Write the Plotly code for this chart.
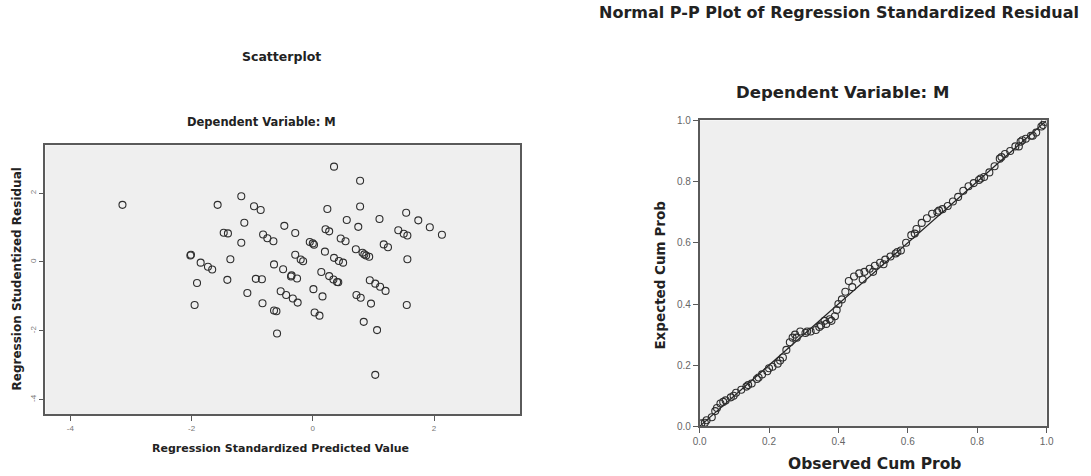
import plotly.graph_objects as go

# ---------------- data ----------------
pred_value = [-3.14, -1.57, -1.18, -0.97, -0.86, -1.13, -1.47, -1.40, -1.18, -2.02,
              -2.01, -1.85, -1.73, -1.66, -1.36, -1.91, -1.95, -1.41, -1.08, -0.84,
              -0.83, -0.82, -0.75, -0.65, -0.47, -0.29, -0.64, -0.49, -0.35, -0.26,
              -0.53, -0.44, -0.33, -0.25, -0.64, -0.60, -0.59, -0.29, -0.20, -0.16,
              -0.05, 0.02, 0.01, 0.16, 0.03, 0.11, 0.14, 0.27, 0.34, 0.42,
              0.20, 0.35, 0.43, 0.50, 0.21, 0.27, 0.24, 0.35, 0.46, 0.54,
              0.56, 0.78, 0.78, 0.75, 0.71, 0.82, 0.88, 0.93, 0.94, 1.03,
              1.11, 1.20, 0.72, 0.79, 0.96, 0.84, 1.06, 1.03, 1.10, 1.17,
              1.24, 1.41, 1.50, 1.56, 1.54, 1.74, 1.93, 2.13, 1.56, 1.55,
              -0.94, 0.00, 0.40, 0.85, -0.36]
stud_resid = [1.66, 1.66, 1.91, 1.62, 1.51, 1.14, 0.85, 0.83, 0.56, 0.19,
              0.21, -0.02, -0.14, -0.22, 0.08, -0.61, -1.25, -0.52, -0.90, -0.50,
              -1.20, 0.80, 0.69, 0.60, 1.05, 0.84, -0.07, -0.21, -0.39, -0.48,
              -0.85, -0.96, -1.06, -1.18, -1.41, -1.43, -2.08, 0.21, 0.07, 0.02,
              0.58, 0.50, -0.79, -1.00, -1.47, -1.56, -0.29, -0.41, -0.51, -0.59,
              0.30, 0.12, 0.03, -0.02, 0.95, 0.89, 1.54, 2.77, 0.68, 0.60,
              1.22, 2.36, 1.61, 1.02, 0.37, 0.27, 0.19, 0.15, -0.53, -0.63,
              -0.72, -0.84, -0.96, -1.04, -1.21, -1.74, -1.98, -3.28, 1.25, 0.51,
              0.43, 0.92, 0.82, 0.77, 1.43, 1.21, 1.01, 0.79, 0.08, -1.25,
              -0.49, 0.54, -0.58, 0.22, -0.42]

observed_cum = [0.005, 0.02, 0.035, 0.05, 0.06, 0.075, 0.09, 0.105, 0.12, 0.135,
                0.15, 0.165, 0.18, 0.195, 0.21, 0.225, 0.24, 0.25, 0.26, 0.275,
                0.29, 0.305, 0.32, 0.335, 0.35, 0.365, 0.38, 0.39, 0.40, 0.41,
                0.42, 0.43, 0.445, 0.46, 0.475, 0.49, 0.505, 0.52, 0.535, 0.55,
                0.565, 0.58, 0.595, 0.61, 0.625, 0.64, 0.655, 0.67, 0.685, 0.70,
                0.715, 0.73, 0.745, 0.76, 0.775, 0.79, 0.805, 0.82, 0.835, 0.85,
                0.865, 0.88, 0.895, 0.91, 0.925, 0.94, 0.955, 0.97, 0.985, 0.995,
                0.44, 0.47, 0.50, 0.53, 0.36, 0.28, 0.62, 0.92, 0.96, 0.99,
                0.015, 0.045, 0.068, 0.098, 0.14, 0.17, 0.20, 0.232, 0.268, 0.31,
                0.345, 0.375, 0.395, 0.57, 0.69, 0.81, 0.87, 0.93]
expected_cum = [0.010, 0.02, 0.03, 0.06, 0.075, 0.085, 0.095, 0.11, 0.12, 0.13,
                0.14, 0.155, 0.17, 0.18, 0.195, 0.205, 0.225, 0.25, 0.275, 0.30,
                0.31, 0.305, 0.31, 0.315, 0.33, 0.335, 0.345, 0.36, 0.40, 0.415,
                0.44, 0.475, 0.49, 0.50, 0.505, 0.515, 0.525, 0.535, 0.545, 0.555,
                0.565, 0.575, 0.60, 0.625, 0.645, 0.665, 0.68, 0.695, 0.70, 0.71,
                0.72, 0.735, 0.75, 0.77, 0.785, 0.795, 0.805, 0.815, 0.83, 0.85,
                0.875, 0.89, 0.90, 0.915, 0.93, 0.94, 0.95, 0.96, 0.98, 0.995,
                0.455, 0.48, 0.505, 0.53, 0.345, 0.29, 0.63, 0.915, 0.95, 0.985,
                0.012, 0.05, 0.08, 0.10, 0.135, 0.16, 0.19, 0.215, 0.29, 0.31,
                0.325, 0.35, 0.38, 0.57, 0.705, 0.81, 0.88, 0.935]

diag_line = [0.0, 1.0]

left_xticks = [-4, -2, 0, 2]
left_yticks = [-4, -2, 0, 2]
pp_ticks = [0.0, 0.2, 0.4, 0.6, 0.8, 1.0]
pp_ticklabels = ["0.0", "0.2", "0.4", "0.6", "0.8", "1.0"]

# ---------------- figure ----------------
W, H = 1091, 476
FONT = "Liberation Sans, Arial, sans-serif"
TFONT = "DejaVu Sans, Verdana, sans-serif"
BG = "#efefef"
FRAME = "#5a5a5a"

fig = go.Figure()

marker = dict(symbol="circle-open", size=7, color="#2e2e2e", line=dict(width=1.1))

fig.add_trace(go.Scatter(x=pred_value, y=stud_resid, mode="markers",
                         marker=marker, xaxis="x", yaxis="y", showlegend=False))
fig.add_trace(go.Scatter(x=diag_line, y=diag_line, mode="lines",
                         line=dict(color="#222222", width=1.2),
                         xaxis="x2", yaxis="y2", showlegend=False))
fig.add_trace(go.Scatter(x=observed_cum, y=expected_cum, mode="markers",
                         marker=marker, xaxis="x2", yaxis="y2", showlegend=False))


def px(x):
    return ((x - 5.4) / 0.99) / W


def py(y):
    return 1 - ((y - 5.25) / 0.98) / H


axis_common = dict(showgrid=False, zeroline=False, showline=True, mirror=True,
                   linecolor=FRAME, linewidth=1.5, ticks="outside",
                   tickcolor=FRAME, ticklen=5, tickwidth=1)

fig.update_layout(
    width=W, height=H,
    margin=dict(l=0, r=0, t=0, b=0),
    paper_bgcolor="white",
    plot_bgcolor=BG,
    font=dict(family=FONT, color="#222"),
    xaxis=dict(domain=[px(44), px(520)], range=[-4.41, 3.42], anchor="y",
               tickvals=left_xticks, ticktext=[str(v) for v in left_xticks],
               tickfont=dict(size=8, color="#777"), **axis_common),
    yaxis=dict(domain=[py(416), py(146)], range=[-4.43, 3.39], anchor="x",
               tickvals=left_yticks, ticktext=[str(v) for v in left_yticks],
               tickangle=-90, tickfont=dict(size=8, color="#777"), **axis_common),
    xaxis2=dict(domain=[px(700), px(1048)], range=[0, 1], anchor="y2",
                tickvals=pp_ticks, ticktext=pp_ticklabels,
                tickfont=dict(size=10, color="#666"), **axis_common),
    yaxis2=dict(domain=[py(428), py(121)], range=[0, 1], anchor="x2",
                tickvals=pp_ticks, ticktext=pp_ticklabels,
                tickfont=dict(size=10, color="#666"), **axis_common),
)


def label(text, x, y, size, angle=0):
    fig.add_annotation(text=f"<b>{text}</b>", x=px(x), y=py(y), xref="paper",
                       yref="paper", showarrow=False, textangle=angle,
                       xanchor="center", yanchor="middle",
                       font=dict(size=size, family=TFONT, color="#222"))


label("Scatterplot", 281, 57, 12.5)
label("Dependent Variable: M", 261, 123, 11.5)
label("Regression Studentized Residual", 15, 280, 12, angle=-90)
label("Regression Standardized Predicted Value", 280, 450, 11)

label("Normal P-P Plot of Regression Standardized Residual", 840, 13, 16)
label("Dependent Variable: M", 843, 93, 16.5)
label("Observed Cum Prob", 875, 466, 15.5)
label("Expected Cum Prob", 660, 276, 13.5, angle=-90)

fig.write_html(
    "out.html",
    config={"displayModeBar": False},
    post_script="document.body.style.margin='0';document.body.style.overflow='hidden';",
)
